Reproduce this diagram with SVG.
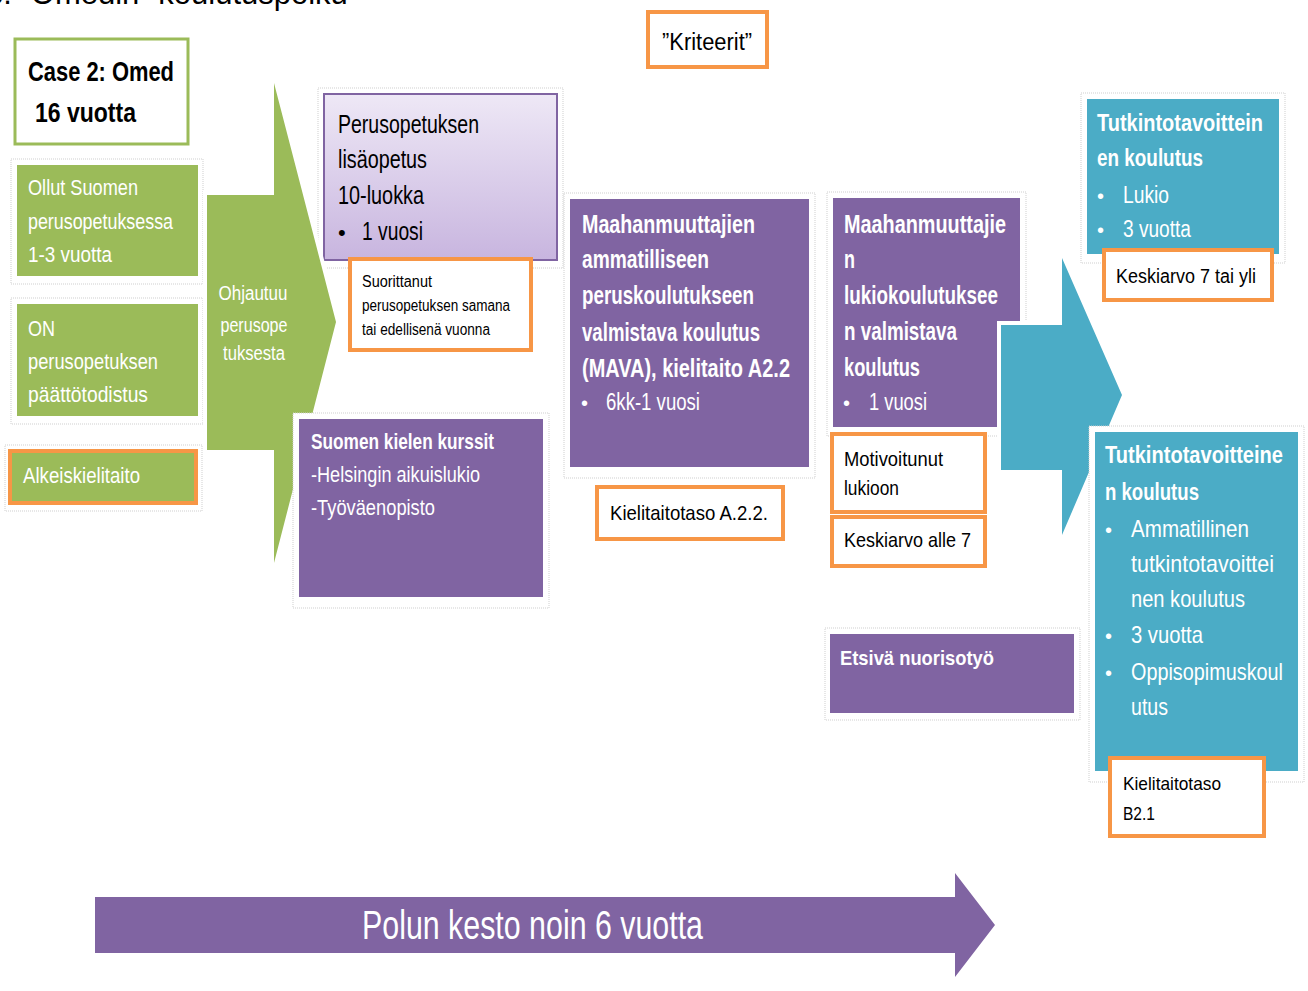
<svg xmlns="http://www.w3.org/2000/svg" width="1308" height="991" viewBox="0 0 1308 991">
<defs>
<linearGradient id="lav" x1="0" y1="0" x2="0" y2="1">
<stop offset="0" stop-color="#eee8f6"/>
<stop offset="1" stop-color="#c8b5df"/>
</linearGradient>
<style>
.t{font-family:"Liberation Sans",Arial,sans-serif}
.w{fill:#ffffff}
.k{fill:#000000}
.b{font-weight:bold}
.halo{fill:#ffffff;stroke:#cfcfcf;stroke-width:1;stroke-dasharray:1 1}
.green{fill:#9BBB59}
.purple{fill:#8064A2}
.teal{fill:#4BACC6}
.ob{fill:#ffffff;stroke:#F79646;stroke-width:4}
.arrowhalo{stroke:#ffffff;stroke-width:8;stroke-linejoin:miter}
</style>
</defs>
<rect width="1308" height="991" fill="#ffffff"/>

<text class="t k" x="-14" y="4" font-size="31">3.  ”Omedin” koulutuspolku</text>

<g id="kriteerit">
<rect class="ob" x="648" y="12" width="119" height="55"/>
<text class="t k" x="662" y="50" font-size="23" textLength="90" lengthAdjust="spacingAndGlyphs">”Kriteerit”</text>
</g>

<g id="case">
<rect x="15" y="39" width="173" height="105" fill="#ffffff" stroke="#9BBB59" stroke-width="3"/>
<text class="t k b" x="28" y="81" font-size="28" textLength="146" lengthAdjust="spacingAndGlyphs">Case 2: Omed</text>
<text class="t k b" x="35" y="122" font-size="28" textLength="101" lengthAdjust="spacingAndGlyphs">16 vuotta</text>
</g>

<g id="ollut">
<rect class="halo" x="11" y="159" width="192" height="125"/>
<rect class="green" x="17" y="165" width="181" height="111"/>
<text class="t w" x="28" y="195" font-size="22" textLength="110" lengthAdjust="spacingAndGlyphs">Ollut Suomen</text>
<text class="t w" x="28" y="229" font-size="22" textLength="145" lengthAdjust="spacingAndGlyphs">perusopetuksessa</text>
<text class="t w" x="28" y="262" font-size="22" textLength="84" lengthAdjust="spacingAndGlyphs">1-3 vuotta</text>
</g>

<g id="on">
<rect class="halo" x="11" y="298" width="192" height="126"/>
<rect class="green" x="17" y="304" width="181" height="112"/>
<text class="t w" x="28" y="336" font-size="22" textLength="27" lengthAdjust="spacingAndGlyphs">ON</text>
<text class="t w" x="28" y="369" font-size="22" textLength="130" lengthAdjust="spacingAndGlyphs">perusopetuksen</text>
<text class="t w" x="28" y="402" font-size="22" textLength="120" lengthAdjust="spacingAndGlyphs">päättötodistus</text>
</g>

<g id="alkeis">
<rect class="halo" x="5" y="445" width="197" height="66"/>
<rect x="10" y="451" width="186" height="52" fill="#9BBB59" stroke="#F79646" stroke-width="4"/>
<text class="t w" x="23" y="483" font-size="22" textLength="117" lengthAdjust="spacingAndGlyphs">Alkeiskielitaito</text>
</g>

<g id="perusopetus">
<rect class="halo" x="318" y="88" width="245" height="180"/>
<rect x="324" y="94" width="233" height="166" fill="url(#lav)" stroke="#8064A2" stroke-width="2"/>
<text class="t k" x="338" y="133" font-size="25" textLength="141" lengthAdjust="spacingAndGlyphs">Perusopetuksen</text>
<text class="t k" x="338" y="168" font-size="25" textLength="89" lengthAdjust="spacingAndGlyphs">lisäopetus</text>
<text class="t k" x="338" y="204" font-size="25" textLength="86" lengthAdjust="spacingAndGlyphs">10-luokka</text>
<text class="t k" x="338" y="240" font-size="22">•</text>
<text class="t k" x="362" y="240" font-size="25" textLength="61" lengthAdjust="spacingAndGlyphs">1 vuosi</text>
</g>

<g id="suorittanut">
<rect class="ob" x="350" y="259" width="181" height="91"/>
<text class="t k" x="362" y="287" font-size="16" textLength="70" lengthAdjust="spacingAndGlyphs">Suorittanut</text>
<text class="t k" x="362" y="311" font-size="16" textLength="148" lengthAdjust="spacingAndGlyphs">perusopetuksen samana</text>
<text class="t k" x="362" y="335" font-size="16" textLength="128" lengthAdjust="spacingAndGlyphs">tai edellisenä vuonna</text>
</g>

<g id="mava">
<rect class="halo" x="564" y="193" width="251" height="285"/>
<rect class="purple" x="570" y="199" width="239" height="268"/>
<text class="t w b" x="582" y="233" font-size="25" textLength="173" lengthAdjust="spacingAndGlyphs">Maahanmuuttajien</text>
<text class="t w b" x="582" y="268" font-size="25" textLength="127" lengthAdjust="spacingAndGlyphs">ammatilliseen</text>
<text class="t w b" x="582" y="304" font-size="25" textLength="172" lengthAdjust="spacingAndGlyphs">peruskoulutukseen</text>
<text class="t w b" x="582" y="341" font-size="25" textLength="178" lengthAdjust="spacingAndGlyphs">valmistava koulutus</text>
<text class="t w b" x="582" y="377" font-size="25" textLength="208" lengthAdjust="spacingAndGlyphs">(MAVA), kielitaito A2.2</text>
<text class="t w" x="581" y="410" font-size="20">•</text>
<text class="t w" x="606" y="410" font-size="23" textLength="94" lengthAdjust="spacingAndGlyphs">6kk-1 vuosi</text>
</g>

<g id="kielitaito-a22">
<rect class="ob" x="597" y="487" width="186" height="52"/>
<text class="t k" x="610" y="520" font-size="21" textLength="158" lengthAdjust="spacingAndGlyphs">Kielitaitotaso A.2.2.</text>
</g>

<g id="lukio-valmistava">
<rect class="halo" x="827" y="192" width="199" height="244"/>
<rect class="purple" x="833" y="198" width="187" height="229"/>
<text class="t w b" x="844" y="233" font-size="25" textLength="162" lengthAdjust="spacingAndGlyphs">Maahanmuuttajie</text>
<text class="t w b" x="844" y="268" font-size="25" textLength="11" lengthAdjust="spacingAndGlyphs">n</text>
<text class="t w b" x="844" y="304" font-size="25" textLength="154" lengthAdjust="spacingAndGlyphs">lukiokoulutuksee</text>
<text class="t w b" x="844" y="340" font-size="25" textLength="113" lengthAdjust="spacingAndGlyphs">n valmistava</text>
<text class="t w b" x="844" y="376" font-size="25" textLength="76" lengthAdjust="spacingAndGlyphs">koulutus</text>
<text class="t w" x="843" y="410" font-size="20">•</text>
<text class="t w" x="869" y="410" font-size="23" textLength="58" lengthAdjust="spacingAndGlyphs">1 vuosi</text>
</g>

<g id="motivoitunut">
<rect class="ob" x="832" y="434" width="153" height="78"/>
<text class="t k" x="844" y="466" font-size="20" textLength="99" lengthAdjust="spacingAndGlyphs">Motivoitunut</text>
<text class="t k" x="844" y="495" font-size="20" textLength="55" lengthAdjust="spacingAndGlyphs">lukioon</text>
</g>

<g id="keskiarvo-alle">
<rect class="ob" x="832" y="517" width="153" height="49"/>
<text class="t k" x="844" y="547" font-size="21" textLength="127" lengthAdjust="spacingAndGlyphs">Keskiarvo alle 7</text>
</g>

<g id="etsiva">
<rect class="halo" x="825" y="628" width="255" height="92"/>
<rect class="purple" x="830" y="634" width="244" height="79"/>
<text class="t w b" x="840" y="665" font-size="21" textLength="154" lengthAdjust="spacingAndGlyphs">Etsivä nuorisotyö</text>
</g>

<g id="tutkinto-lukio">
<rect class="halo" x="1081" y="93" width="204" height="170"/>
<rect class="teal" x="1087" y="99" width="192" height="155"/>
<text class="t w b" x="1097" y="131" font-size="23" textLength="166" lengthAdjust="spacingAndGlyphs">Tutkintotavoittein</text>
<text class="t w b" x="1097" y="166" font-size="23" textLength="106" lengthAdjust="spacingAndGlyphs">en koulutus</text>
<text class="t w" x="1097" y="203" font-size="20">•</text>
<text class="t w" x="1123" y="203" font-size="23" textLength="46" lengthAdjust="spacingAndGlyphs">Lukio</text>
<text class="t w" x="1097" y="237" font-size="20">•</text>
<text class="t w" x="1123" y="237" font-size="23" textLength="68" lengthAdjust="spacingAndGlyphs">3 vuotta</text>
</g>

<g id="keskiarvo-yli">
<rect class="ob" x="1104" y="250" width="168" height="50"/>
<text class="t k" x="1116" y="283" font-size="20" textLength="140" lengthAdjust="spacingAndGlyphs">Keskiarvo  7 tai yli</text>
</g>

<g id="connectors">
<polygon class="arrowhalo green" points="207,195 274,195 274,83 336,322 274,563 274,450 207,450"/>
<polygon class="green" points="207,195 274,195 274,83 336,322 274,563 274,450 207,450"/>
<text class="t w" x="253" y="300" font-size="20" text-anchor="middle" textLength="69" lengthAdjust="spacingAndGlyphs">Ohjautuu</text>
<text class="t w" x="254" y="332" font-size="20" text-anchor="middle" textLength="67" lengthAdjust="spacingAndGlyphs">perusope</text>
<text class="t w" x="254" y="360" font-size="20" text-anchor="middle" textLength="62" lengthAdjust="spacingAndGlyphs">tuksesta</text>

<polygon class="arrowhalo teal" points="1001,325 1062,325 1062,258 1122,395 1062,535 1062,470 1001,470"/>
<polygon class="teal" points="1001,325 1062,325 1062,258 1122,395 1062,535 1062,470 1001,470"/>

<polygon class="arrowhalo purple" points="95,897 955,897 955,873 995,925 955,977 955,953 95,953"/>
<polygon class="purple" points="95,897 955,897 955,873 995,925 955,977 955,953 95,953"/>
<text class="t w" x="362" y="939" font-size="40" textLength="341" lengthAdjust="spacingAndGlyphs">Polun kesto noin 6 vuotta</text>
</g>

<g id="suomen-kurssit">
<rect class="halo" x="293" y="413" width="256" height="195"/>
<rect class="purple" x="299" y="419" width="244" height="178"/>
<text class="t w b" x="311" y="449" font-size="22" textLength="183" lengthAdjust="spacingAndGlyphs">Suomen kielen kurssit</text>
<text class="t w" x="311" y="482" font-size="22" textLength="169" lengthAdjust="spacingAndGlyphs">-Helsingin aikuislukio</text>
<text class="t w" x="311" y="515" font-size="22" textLength="124" lengthAdjust="spacingAndGlyphs">-Työväenopisto</text>
</g>

<g id="tutkinto-ammatillinen">
<rect class="halo" x="1089" y="426" width="215" height="356"/>
<rect class="teal" x="1095" y="432" width="203" height="339"/>
<text class="t w b" x="1105" y="463" font-size="23" textLength="178" lengthAdjust="spacingAndGlyphs">Tutkintotavoitteine</text>
<text class="t w b" x="1105" y="500" font-size="23" textLength="94" lengthAdjust="spacingAndGlyphs">n koulutus</text>
<text class="t w" x="1105" y="537" font-size="20">•</text>
<text class="t w" x="1131" y="537" font-size="24" textLength="118" lengthAdjust="spacingAndGlyphs">Ammatillinen</text>
<text class="t w" x="1131" y="572" font-size="24" textLength="143" lengthAdjust="spacingAndGlyphs">tutkintotavoittei</text>
<text class="t w" x="1131" y="607" font-size="24" textLength="114" lengthAdjust="spacingAndGlyphs">nen koulutus</text>
<text class="t w" x="1105" y="643" font-size="20">•</text>
<text class="t w" x="1131" y="643" font-size="24" textLength="72" lengthAdjust="spacingAndGlyphs">3 vuotta</text>
<text class="t w" x="1105" y="680" font-size="20">•</text>
<text class="t w" x="1131" y="680" font-size="24" textLength="152" lengthAdjust="spacingAndGlyphs">Oppisopimuskoul</text>
<text class="t w" x="1131" y="715" font-size="24" textLength="37" lengthAdjust="spacingAndGlyphs">utus</text>
</g>

<g id="kielitaito-b21">
<rect class="ob" x="1110" y="758" width="154" height="78"/>
<text class="t k" x="1123" y="790" font-size="19" textLength="98" lengthAdjust="spacingAndGlyphs">Kielitaitotaso</text>
<text class="t k" x="1123" y="820" font-size="19" textLength="32" lengthAdjust="spacingAndGlyphs">B2.1</text>
</g>
</svg>
